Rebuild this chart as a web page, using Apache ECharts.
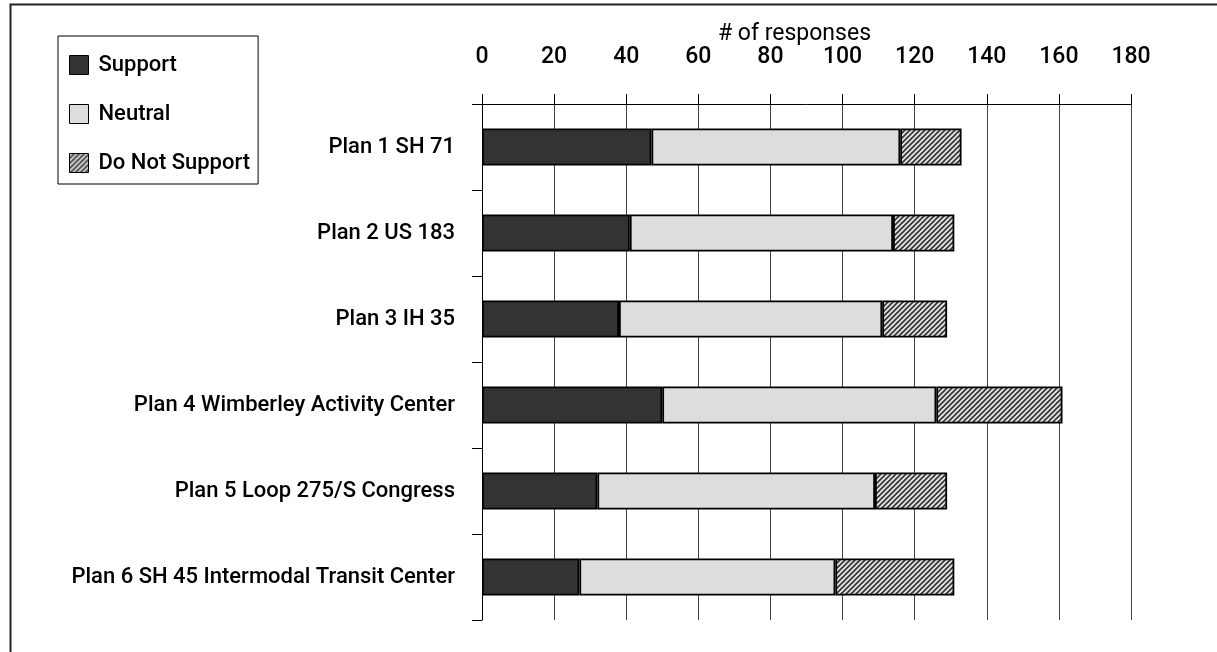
<!DOCTYPE html>
<html>
<head>
<meta charset="utf-8">
<script src="https://cdn.jsdelivr.net/npm/echarts@6/dist/echarts.min.js"></script>
<style>
  html, body { margin: 0; padding: 0; background: #fff; }
  #chart { width: 1217px; height: 652px; }
</style>
</head>
<body>
<div id="chart"></div>
<script>
// plans, top to bottom
const plans = [
  "Plan 1 SH 71",
  "Plan 2 US 183",
  "Plan 3 IH 35",
  "Plan 4 Wimberley Activity Center",
  "Plan 5 Loop 275/S Congress",
  "Plan 6 SH 45 Intermodal Transit Center"
];
// # of responses per plan
const support = [47, 41, 38, 50, 32, 27];
const neutral = [69, 73, 73, 76, 77, 71];
const doNotSupport = [17, 17, 18, 35, 20, 33];
const seriesNames = ["Support", "Neutral", "Do Not Support"];

// no condensed font installed, Roboto is the narrowest one we have
const FONT = "Roboto, 'Noto Sans', sans-serif";

// diagonal hatch for "Do Not Support"
function makeHatch() {
  const c = document.createElement("canvas");
  c.width = 5;
  c.height = 5;
  const ctx = c.getContext("2d");
  ctx.fillStyle = "#e4e4e4";
  ctx.fillRect(0, 0, 5, 5);
  ctx.strokeStyle = "#333";
  ctx.lineWidth = 1.6;
  ctx.beginPath();
  ctx.moveTo(0, 5); ctx.lineTo(5, 0);
  ctx.moveTo(-1, 1); ctx.lineTo(1, -1);
  ctx.moveTo(4, 6); ctx.lineTo(6, 4);
  ctx.stroke();
  return { image: c, repeat: "repeat" };
}

const chart = echarts.init(document.getElementById("chart"));

const barStyle = (color) => ({
  color: color,
  borderColor: "#000",
  borderWidth: 1.8
});

chart.setOption({
  animation: false,
  textStyle: { fontFamily: FONT },
  grid: { left: 482, right: 86, top: 104, bottom: 32 },
  legend: {
    orient: "vertical",
    left: 58,
    top: 36,
    padding: [18, 8, 10, 11],
    icon: "rect",
    itemWidth: 19,
    itemHeight: 19,
    itemGap: 27,
    borderColor: "#000",
    borderWidth: 1,
    backgroundColor: "#fff",
    data: seriesNames,
    itemStyle: { borderColor: "#000", borderWidth: 1 },
    textStyle: {
      fontFamily: FONT,
      fontSize: 22,
      fontWeight: 500,
      color: "#000",
      padding: [0, 0, 0, 5]
    }
  },
  xAxis: {
    type: "value",
    position: "top",
    min: 0,
    max: 180,
    interval: 20,
    name: "# of responses",
    nameLocation: "middle",
    nameGap: 58,
    nameMoveOverlap: false,
    nameTextStyle: {
      fontFamily: FONT,
      fontSize: 23,
      color: "#000",
      padding: [0, 24, 0, 0]
    },
    axisLine: { show: true, lineStyle: { color: "#000", width: 1 } },
    axisTick: { show: true, length: 10, lineStyle: { color: "#000" } },
    axisLabel: {
      margin: 35,
      fontFamily: FONT,
      fontSize: 23,
      fontWeight: 500,
      color: "#000"
    },
    splitLine: { show: true, lineStyle: { color: "#444", width: 1 } }
  },
  yAxis: {
    type: "category",
    inverse: true,
    data: plans,
    axisLine: { show: true, lineStyle: { color: "#000", width: 1 } },
    axisTick: { show: true, length: 10, alignWithLabel: false, lineStyle: { color: "#000" } },
    axisLabel: {
      margin: 27,
      fontFamily: FONT,
      fontSize: 22,
      fontWeight: 500,
      color: "#000"
    }
  },
  series: [
    {
      name: seriesNames[0],
      type: "bar",
      stack: "total",
      barWidth: 37,
      data: support,
      itemStyle: barStyle("#333333")
    },
    {
      name: seriesNames[1],
      type: "bar",
      stack: "total",
      barWidth: 37,
      data: neutral,
      itemStyle: barStyle("#dddddd")
    },
    {
      name: seriesNames[2],
      type: "bar",
      stack: "total",
      barWidth: 37,
      data: doNotSupport,
      itemStyle: barStyle(makeHatch())
    }
  ],
  graphic: [
    {
      type: "rect",
      left: 8,
      top: 2,
      shape: { width: 1400, height: 800 },
      style: { fill: "none", stroke: "#222", lineWidth: 2 },
      silent: true,
      z: -1
    }
  ]
});
</script>
</body>
</html>
